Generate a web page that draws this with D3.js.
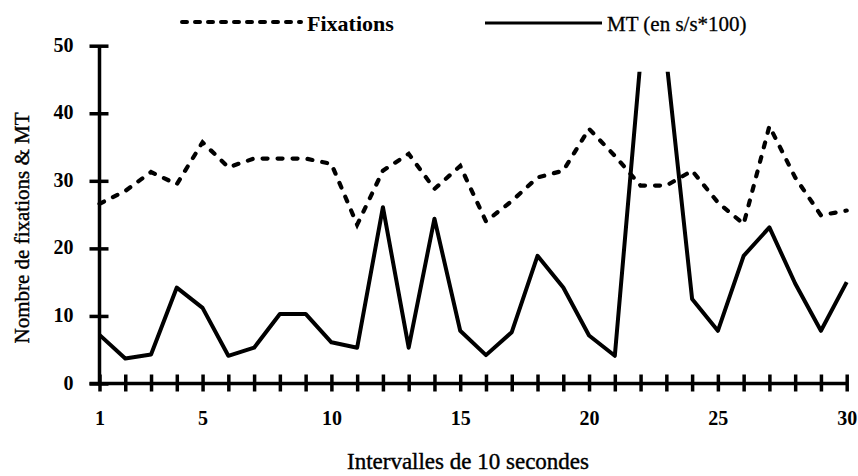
<!DOCTYPE html>
<html>
<head>
<meta charset="utf-8">
<script src="https://cdn.jsdelivr.net/npm/d3@7"></script>
<style>
  html, body { margin: 0; padding: 0; background: #fff; }
  svg { display: block; }
  text { font-family: "Liberation Serif", "Times New Roman", serif; fill: #000; }
</style>
</head>
<body>
<svg id="chart" width="858" height="476"></svg>
<script>
// ---- data ----
const intervals = d3.range(1, 31);
const fixations = [26.6, 28.5, 31.3, 29.5, 35.7, 32.0, 33.3, 33.3, 33.3, 32.5,
                   23.5, 31.5, 34.0, 28.8, 32.2, 24.0, 27.0, 30.5, 31.5, 37.7,
                   33.7, 29.3, 29.3, 31.5, 26.8, 23.6, 38.1, 30.5, 24.9, 25.6];
const mt = [7.2, 3.7, 4.3, 14.2, 11.2, 4.1, 5.3, 10.3, 10.3, 6.1,
            5.3, 26.1, 5.3, 24.4, 7.8, 4.2, 7.6, 18.9, 14.2, 7.1,
            4.1, 48, 48, 12.5, 7.8, 18.9, 23.1, 14.8, 7.8, 15.0];
const yTicks = [0, 10, 20, 30, 40, 50];
const xLabelTicks = [1, 5, 10, 15, 20, 25, 30];
const mtClipTop = 46.15;
const legendLabels = ["Fixations", "MT (en s/s*100)"];
const xTitle = "Intervalles de 10 secondes";
const yTitle = "Nombre de fixations & MT";

// ---- scales ----
const svg = d3.select("#chart");
const x = d3.scaleLinear().domain([1, 30]).range([99.5, 846.7]);
const y = d3.scaleLinear().domain([0, 50]).range([383.5, 45.7]);

// ---- clip for MT line ----
svg.append("defs").append("clipPath").attr("id", "mtclip")
  .append("rect")
  .attr("x", 0).attr("y", y(mtClipTop))
  .attr("width", 858).attr("height", y(0) - y(mtClipTop) + 20);

// ---- axes ----
const yAxis = svg.append("g").attr("transform", `translate(${x(1)},0)`)
  .call(d3.axisLeft(y).tickValues(yTicks).tickSize(0).tickPadding(26));
yAxis.select(".domain").remove();
yAxis.append("line").attr("x1", 0).attr("x2", 0).attr("y1", y(50)).attr("y2", y(0) + 2)
  .attr("stroke", "#000").attr("stroke-width", 3.5);
yAxis.selectAll(".tick").append("line").attr("x1", -10).attr("x2", 9)
  .attr("stroke", "#000").attr("stroke-width", 3.5);
yAxis.selectAll(".tick text")
  .style("font-family", '"Liberation Serif", serif')
  .style("font-size", "20px").style("font-weight", "bold")
  .attr("dy", "0.28em");

const xAxis = svg.append("g").attr("transform", `translate(0,${y(0)})`)
  .call(d3.axisBottom(x).tickValues(intervals).tickSize(0).tickPadding(27)
    .tickFormat(d => xLabelTicks.includes(d) ? d : ""));
xAxis.select(".domain").remove();
xAxis.append("line").attr("x1", x(1) - 10).attr("x2", x(30)).attr("y1", 0).attr("y2", 0)
  .attr("stroke", "#000").attr("stroke-width", 3.5);
xAxis.selectAll(".tick").append("line").attr("y1", -9).attr("y2", 8)
  .attr("stroke", "#000").attr("stroke-width", 3.5);
xAxis.selectAll(".tick text")
  .style("font-family", '"Liberation Serif", serif')
  .style("font-size", "20px").style("font-weight", "bold");

// ---- lines ----
const line = d3.line().x((d, i) => x(intervals[i])).y(d => y(d));

svg.append("path").datum(fixations)
  .attr("d", line).attr("fill", "none").attr("stroke", "#000")
  .attr("stroke-width", 4.2).attr("stroke-linecap", "round")
  .attr("stroke-dasharray", "5,10");

svg.append("path").datum(mt)
  .attr("clip-path", "url(#mtclip)")
  .attr("d", line).attr("fill", "none").attr("stroke", "#000")
  .attr("stroke-width", 4).attr("stroke-linejoin", "round");

// ---- legend ----
const lg = svg.append("g");
lg.append("line").attr("x1", 182).attr("x2", 301).attr("y1", 22).attr("y2", 22)
  .attr("stroke", "#000").attr("stroke-width", 4).attr("stroke-linecap", "round")
  .attr("stroke-dasharray", "5,8");
lg.append("text").attr("x", 307).attr("y", 31)
  .style("font-size", "22px").style("font-weight", "bold").text(legendLabels[0]);
lg.append("line").attr("x1", 485).attr("x2", 602).attr("y1", 23).attr("y2", 23)
  .attr("stroke", "#000").attr("stroke-width", 3);
lg.append("text").attr("x", 607).attr("y", 31)
  .style("font-size", "21px").style("stroke", "#000").style("stroke-width", 0.3)
  .text(legendLabels[1]);

// ---- titles ----
svg.append("text").attr("x", 468).attr("y", 469).attr("text-anchor", "middle")
  .style("font-size", "23px").style("stroke", "#000").style("stroke-width", 0.4)
  .text(xTitle);
svg.append("text").attr("transform", "translate(29,228) rotate(-90)")
  .attr("text-anchor", "middle")
  .style("font-size", "21px").style("stroke", "#000").style("stroke-width", 0.4)
  .text(yTitle);
</script>
</body>
</html>
